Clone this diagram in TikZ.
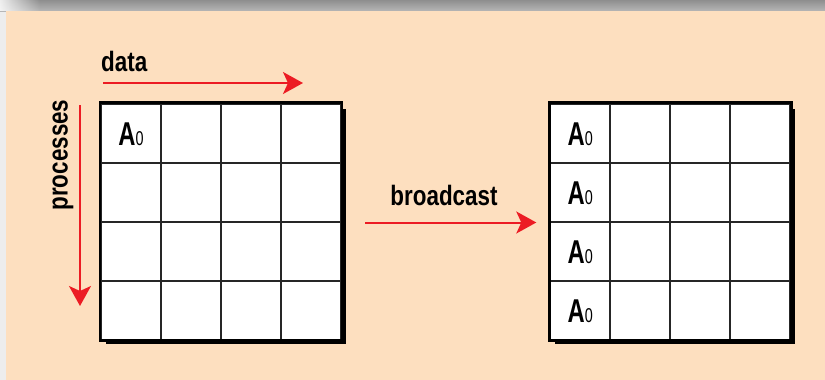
\documentclass[tikz,border=0pt]{standalone}
\usepackage{fontspec}
\setmainfont{Liberation Sans}[FakeStretch=0.8]
\newfontfamily\cellfont{Liberation Sans}[FakeStretch=0.72]
\usetikzlibrary{arrows.meta,fadings}

\definecolor{peach}{HTML}{FDDFBF}
\definecolor{arrowred}{HTML}{EC1C24}
\definecolor{bandtop}{HTML}{8E8E8E}
\definecolor{bandbot}{HTML}{B6B6B6}
\definecolor{edgegray}{HTML}{EDEDED}

\tikzset{
  cell/.style={draw=black!85, line width=2pt, fill=white,
    minimum width=60pt, minimum height=59pt, inner sep=0pt,
    anchor=north west},
  flow/.style={draw=arrowred, line width=2pt,
    -{Stealth[length=20pt,width=22pt,inset=5pt,fill=arrowred]}},
  lbl/.style={font=\bfseries\fontsize{28}{28}\selectfont, inner sep=0pt},
  entry/.style={font=\cellfont\bfseries\fontsize{33}{33}\selectfont, inner sep=0pt},
  gridshadow/.style={fill=black},
  gridframe/.style={draw=black, line width=2.6pt},
}
\newcommand{\azero}{A{\mdseries\fontsize{20}{20}\selectfont 0}}

\begin{document}
\begin{tikzpicture}[x=1pt,y=-1pt]
  \useasboundingbox (0,0) rectangle (825,380);

  % panel background with grey title band and light left edge
  \fill[edgegray] (0,0) rectangle (825,380);
  \shade[top color=bandtop,bottom color=bandbot] (0,0) rectangle (825,11);
  \fill[white, opacity=.85, path fading=east] (0,0) rectangle (40,11);
  \fill[peach] (6,11) rectangle (825,380);

  % left grid: one datum on the first process
  \fill[gridshadow] (106,108.5) rectangle (346,344);
  \foreach \r in {1,...,4} \foreach \c in {1,...,4}
    \node[cell] (L-\r-\c) at ({100+60*(\c-1)},{102.5+59*(\r-1)}) {};
  \draw[gridframe] (L-1-1.north west) rectangle (L-4-4.south east);
  \node[entry] (LA) at ([yshift=-1pt]L-1-1) {\azero};

  % right grid: the datum copied to every process
  \fill[gridshadow] (555.3,108.5) rectangle (795.3,344);
  \foreach \r in {1,...,4} \foreach \c in {1,...,4}
    \node[cell] (R-\r-\c) at ({549.3+60*(\c-1)},{102.5+59*(\r-1)}) {};
  \draw[gridframe] (R-1-1.north west) rectangle (R-4-4.south east);
  \foreach \r in {1,...,4}
    \node[entry] (RA-\r) at ([yshift=-1pt]R-\r-1) {\azero};

  % axis arrows and labels
  \coordinate (data-start) at (103,83);
  \coordinate (data-end) at (303,83);
  \draw[flow] (data-start) -- (data-end);
  \node[lbl, anchor=base west] (data) at (101,71) {data};

  \coordinate (proc-start) at (80,105);
  \coordinate (proc-end) at (80,306);
  \draw[flow] (proc-start) -- (proc-end);
  \node[lbl, rotate=90] (processes) at (63,155) {processes};

  % broadcast step between the grids
  \draw[flow, shorten <=23pt, shorten >=13pt] (L-2-4.south east) -- (R-2-1.south west);
  \node[lbl, anchor=base] (bcast) at (444,205) {broadcast};
\end{tikzpicture}
\end{document}
